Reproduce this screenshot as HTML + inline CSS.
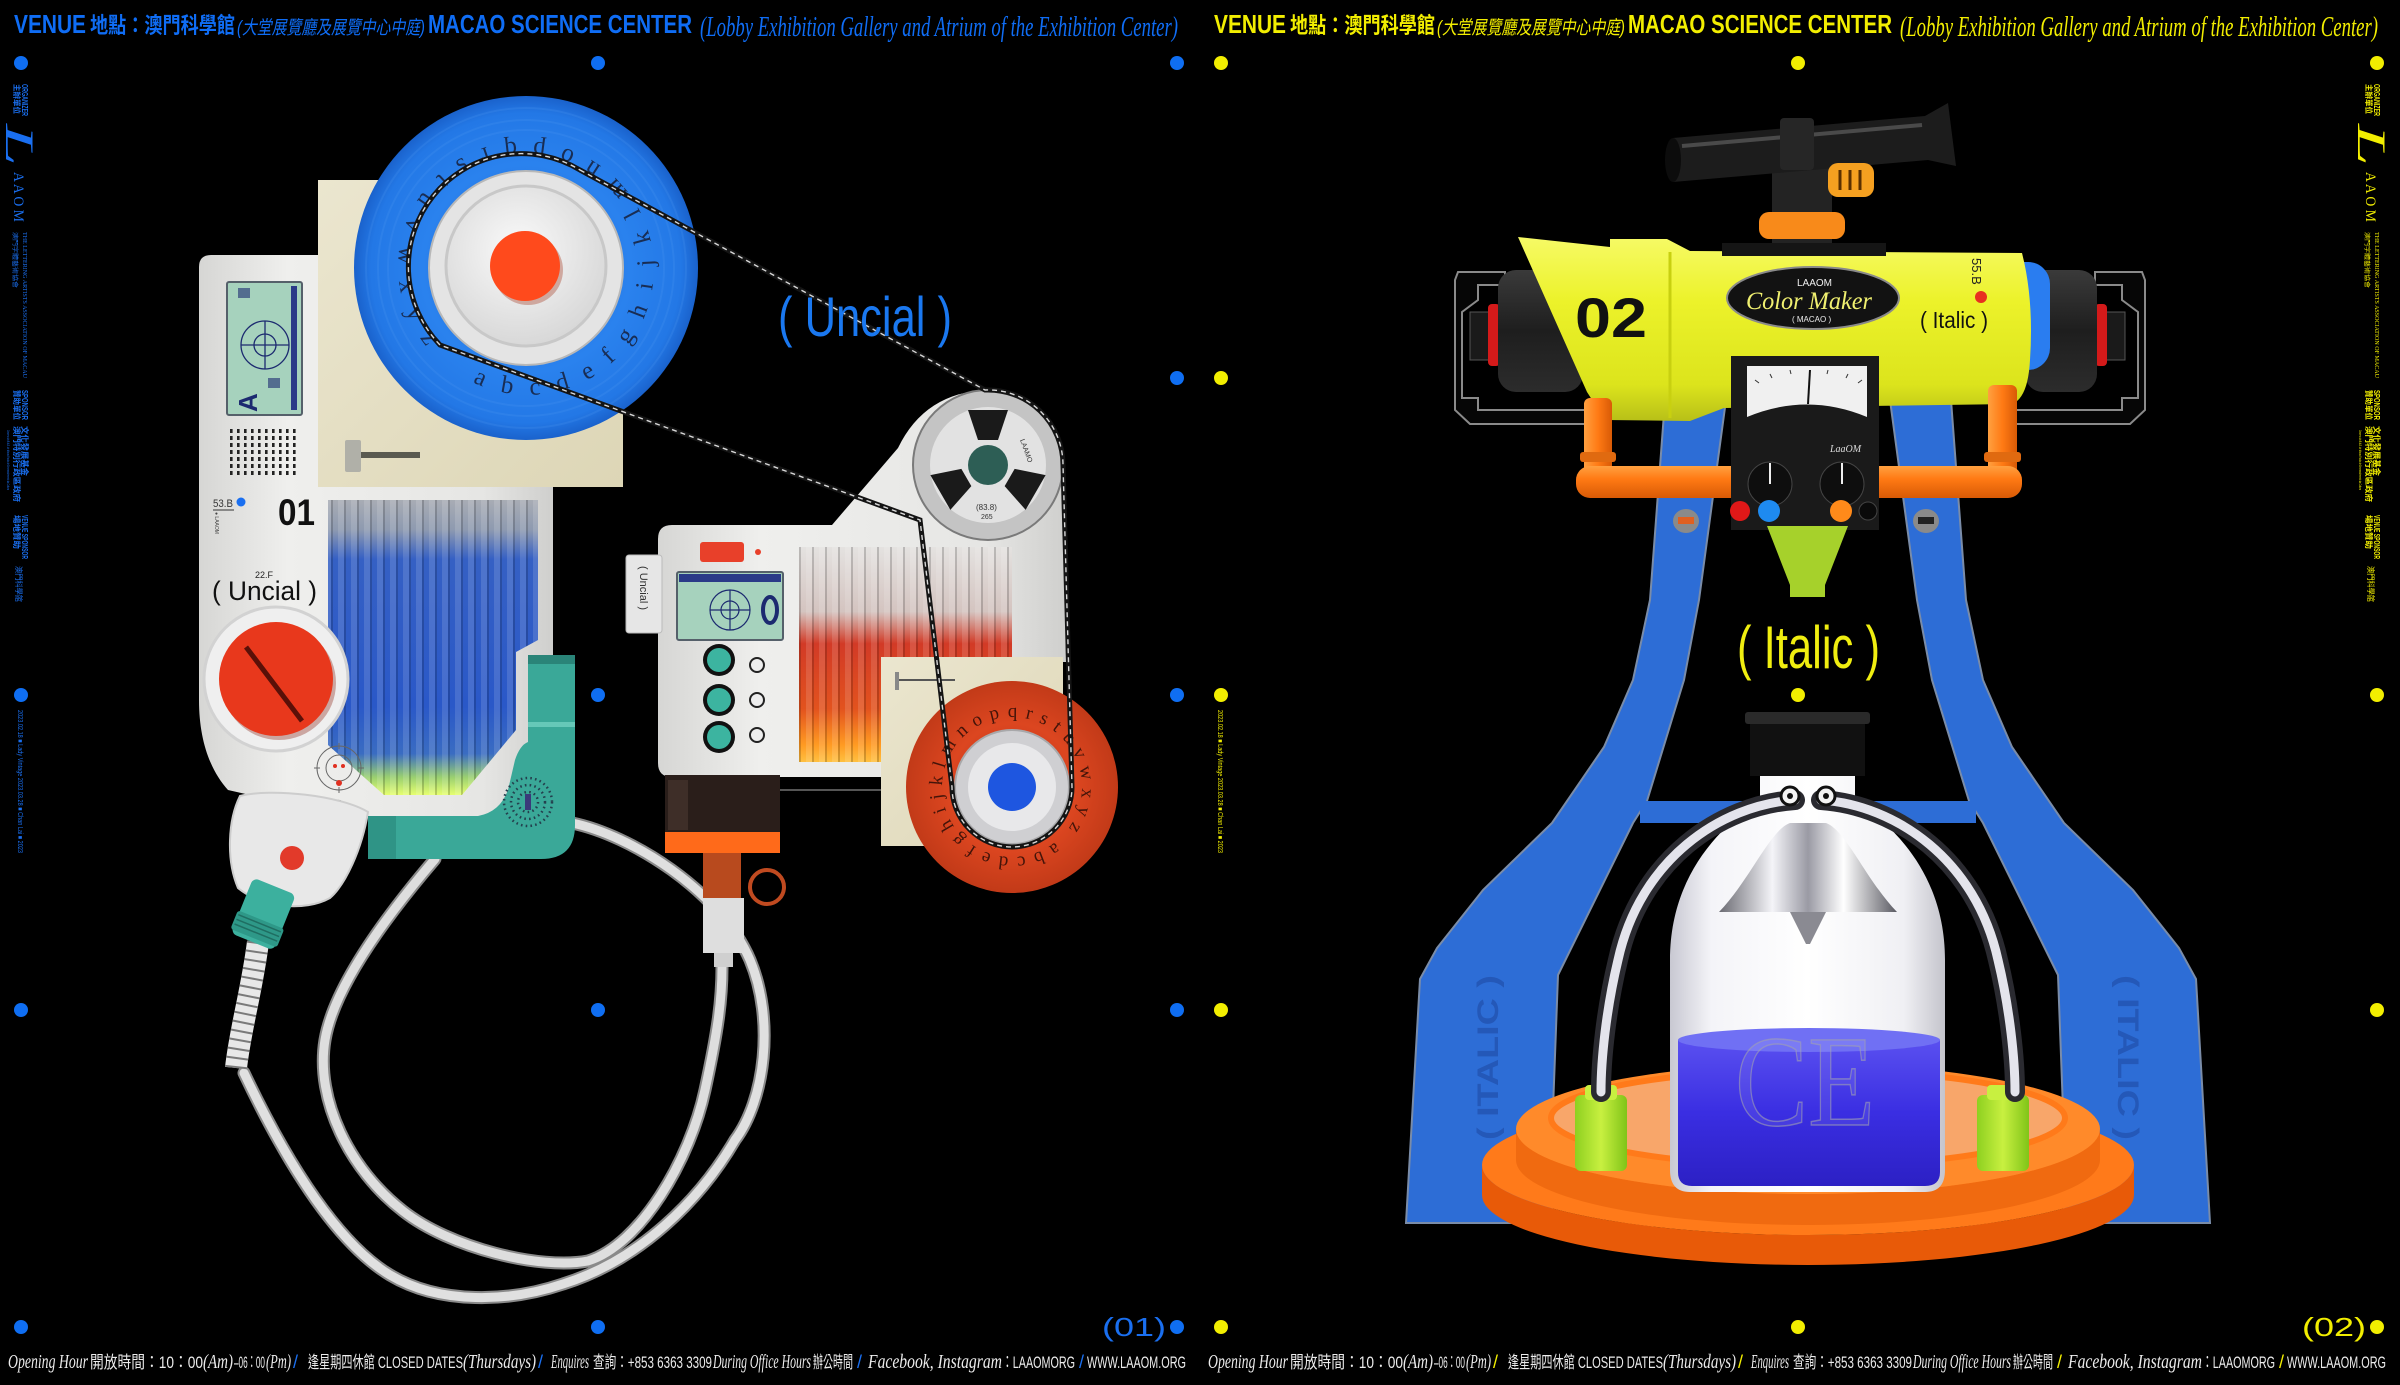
<!DOCTYPE html>
<html><head><meta charset="utf-8"><style>
html,body{margin:0;padding:0;background:#000;}
svg{display:block;}
</style></head><body>
<svg width="2400" height="1385" viewBox="0 0 2400 1385" xmlns="http://www.w3.org/2000/svg">
<style>
.sb{font-family:"Liberation Sans","Noto Sans CJK TC",sans-serif;font-weight:bold;}
.s{font-family:"Liberation Sans","Noto Sans CJK TC",sans-serif;}
.sc{font-family:"Liberation Serif",serif;font-style:italic;}
.se{font-family:"Liberation Serif",serif;}
</style>
<defs>
<linearGradient id="wbody" x1="0" y1="0" x2="1" y2="0"><stop offset="0" stop-color="#d6d6d4"/><stop offset=".25" stop-color="#efefed"/><stop offset=".8" stop-color="#e6e6e4"/><stop offset="1" stop-color="#cfcfcd"/></linearGradient>
<linearGradient id="beige" x1="0" y1="0" x2="1" y2="1"><stop offset="0" stop-color="#ebe6cf"/><stop offset="1" stop-color="#ddd6b6"/></linearGradient>
<radialGradient id="bdisk" cx=".5" cy=".5" r=".5"><stop offset="0" stop-color="#1b5fc9"/><stop offset=".6" stop-color="#2a82ee"/><stop offset=".9" stop-color="#2378e6"/><stop offset="1" stop-color="#1a62cc"/></radialGradient>
<radialGradient id="rdisk" cx=".5" cy=".5" r=".5"><stop offset="0" stop-color="#b83016"/><stop offset=".6" stop-color="#dc4620"/><stop offset="1" stop-color="#c23a18"/></radialGradient>
<radialGradient id="wdisc" cx=".45" cy=".4" r=".6"><stop offset="0" stop-color="#fafafa"/><stop offset="1" stop-color="#d8d8d8"/></radialGradient>
<linearGradient id="bwin" x1="0" y1="0" x2="0" y2="1"><stop offset="0" stop-color="#a8acb4"/><stop offset=".1" stop-color="#8e9ab0"/><stop offset=".2" stop-color="#3560c4"/><stop offset=".7" stop-color="#2a58c8"/><stop offset=".86" stop-color="#3a6cc2"/><stop offset=".94" stop-color="#9ad070"/><stop offset="1" stop-color="#e6ff70"/></linearGradient>
<linearGradient id="rwin" x1="0" y1="0" x2="0" y2="1"><stop offset="0" stop-color="#e4e2e0"/><stop offset=".3" stop-color="#d4c4c0"/><stop offset=".45" stop-color="#d23a26"/><stop offset=".75" stop-color="#e2521e"/><stop offset=".92" stop-color="#ff9a22"/><stop offset="1" stop-color="#ffc040"/></linearGradient>
<pattern id="stripes" width="13" height="20" patternUnits="userSpaceOnUse"><rect width="6" height="20" fill="#fff" opacity=".13"/><rect x="6" width="2" height="20" fill="#000" opacity=".18"/></pattern>
<linearGradient id="yel" x1="0" y1="0" x2="0" y2="1"><stop offset="0" stop-color="#f6fa66"/><stop offset=".35" stop-color="#ecf22a"/><stop offset=".8" stop-color="#dce41c"/><stop offset="1" stop-color="#b8c018"/></linearGradient>
<linearGradient id="pipe" x1="0" y1="0" x2="0" y2="1"><stop offset="0" stop-color="#ffa040"/><stop offset=".4" stop-color="#ff7a14"/><stop offset="1" stop-color="#d85a06"/></linearGradient>
<linearGradient id="pipev" x1="0" y1="0" x2="1" y2="0"><stop offset="0" stop-color="#ffa040"/><stop offset=".5" stop-color="#ff7a14"/><stop offset="1" stop-color="#d85a06"/></linearGradient>
<linearGradient id="glass" x1="0" y1="0" x2="1" y2="0"><stop offset="0" stop-color="#c8c8d2"/><stop offset=".15" stop-color="#f4f4f8"/><stop offset=".5" stop-color="#ffffff"/><stop offset=".85" stop-color="#f0f0f4"/><stop offset="1" stop-color="#c4c4cc"/></linearGradient>
<linearGradient id="liq" x1="0" y1="0" x2="0" y2="1"><stop offset="0" stop-color="#5a50f0"/><stop offset=".5" stop-color="#3a2ee2"/><stop offset="1" stop-color="#2c20c4"/></linearGradient>
<linearGradient id="chrome" x1="0" y1="0" x2="1" y2="0"><stop offset="0" stop-color="#6a6a72"/><stop offset=".3" stop-color="#f4f4f8"/><stop offset=".5" stop-color="#9a9aa4"/><stop offset=".7" stop-color="#ffffff"/><stop offset="1" stop-color="#5a5a62"/></linearGradient>
<linearGradient id="grn" x1="0" y1="0" x2="1" y2="0"><stop offset="0" stop-color="#8ed020"/><stop offset=".5" stop-color="#c8f040"/><stop offset="1" stop-color="#80c418"/></linearGradient>
<linearGradient id="blk" x1="0" y1="0" x2="0" y2="1"><stop offset="0" stop-color="#3a3a3a"/><stop offset=".5" stop-color="#1e1e1e"/><stop offset="1" stop-color="#2c2c2c"/></linearGradient>
<path id="ringB" d="M472.8,382.2 A126,126 0 1 0 579.2,153.8 A126,126 0 1 0 472.8,382.2"/>
<path id="ringR" d="M1055.1,842.2 A70,70 0 1 1 968.9,731.8 A70,70 0 1 1 1055.1,842.2"/>
</defs>
<rect width="2400" height="1385" fill="#000"/>

<!-- ============ HEADERS ============ -->
<g fill="#0f6df5">
<text class="sb" x="14" y="33" font-size="26" textLength="72" lengthAdjust="spacingAndGlyphs">VENUE</text>
<text class="sb" x="90" y="33" font-size="22" textLength="145" lengthAdjust="spacingAndGlyphs">地點：澳門科學館</text>
<text class="s" x="237" y="34" font-size="19" font-style="italic" textLength="188" lengthAdjust="spacingAndGlyphs">(大堂展覽廳及展覽中心中庭)</text>
<text class="sb" x="428" y="33" font-size="26" textLength="264" lengthAdjust="spacingAndGlyphs">MACAO SCIENCE CENTER</text>
<text class="sc" x="700" y="36" font-size="28" textLength="478" lengthAdjust="spacingAndGlyphs">(Lobby Exhibition Gallery and Atrium of the Exhibition Center)</text>
</g>
<g fill="#f2ee00">
<text class="sb" x="1214" y="33" font-size="26" textLength="72" lengthAdjust="spacingAndGlyphs">VENUE</text>
<text class="sb" x="1290" y="33" font-size="22" textLength="145" lengthAdjust="spacingAndGlyphs">地點：澳門科學館</text>
<text class="s" x="1437" y="34" font-size="19" font-style="italic" textLength="188" lengthAdjust="spacingAndGlyphs">(大堂展覽廳及展覽中心中庭)</text>
<text class="sb" x="1628" y="33" font-size="26" textLength="264" lengthAdjust="spacingAndGlyphs">MACAO SCIENCE CENTER</text>
<text class="sc" x="1900" y="36" font-size="28" textLength="478" lengthAdjust="spacingAndGlyphs">(Lobby Exhibition Gallery and Atrium of the Exhibition Center)</text>
</g>

<!-- ============ FOOTERS ============ -->
<g fill="#ececec" font-size="17">
<text class="sc" x="8" y="1368" font-size="20" textLength="80" lengthAdjust="spacingAndGlyphs">Opening Hour</text>
<text class="s" x="90" y="1368" textLength="113" lengthAdjust="spacingAndGlyphs">開放時間：10：00</text>
<text class="sc" x="203" y="1368" font-size="20" textLength="30" lengthAdjust="spacingAndGlyphs">(Am)</text>
<text class="s" x="234" y="1368" textLength="31" lengthAdjust="spacingAndGlyphs">–06：00</text>
<text class="sc" x="266" y="1368" font-size="20" textLength="25" lengthAdjust="spacingAndGlyphs">(Pm)</text>
<text class="s" x="308" y="1368" textLength="155" lengthAdjust="spacingAndGlyphs">逢星期四休館 CLOSED DATES</text>
<text class="sc" x="463" y="1368" font-size="20" textLength="73" lengthAdjust="spacingAndGlyphs">(Thursdays)</text>
<text class="sc" x="551" y="1368" font-size="20" textLength="38" lengthAdjust="spacingAndGlyphs">Enquires</text>
<text class="s" x="593" y="1368" textLength="119" lengthAdjust="spacingAndGlyphs">查詢：+853 6363 3309</text>
<text class="sc" x="713" y="1368" font-size="20" textLength="98" lengthAdjust="spacingAndGlyphs">During Office Hours</text>
<text class="s" x="813" y="1368" textLength="40" lengthAdjust="spacingAndGlyphs">辦公時間</text>
<text class="sc" x="868" y="1368" font-size="20" textLength="134" lengthAdjust="spacingAndGlyphs">Facebook, Instagram</text>
<text class="s" x="1002" y="1368" textLength="73" lengthAdjust="spacingAndGlyphs">：LAAOMORG</text>
<text class="s" x="1087" y="1368" textLength="99" lengthAdjust="spacingAndGlyphs">WWW.LAAOM.ORG</text>
</g>
<g fill="#1a6ff0" font-size="18" class="s"><text x="293" y="1368">/</text><text x="538" y="1368">/</text><text x="857" y="1368">/</text><text x="1079" y="1368">/</text></g>
<g fill="#ececec" font-size="17">
<text class="sc" x="1208" y="1368" font-size="20" textLength="80" lengthAdjust="spacingAndGlyphs">Opening Hour</text>
<text class="s" x="1290" y="1368" textLength="113" lengthAdjust="spacingAndGlyphs">開放時間：10：00</text>
<text class="sc" x="1403" y="1368" font-size="20" textLength="30" lengthAdjust="spacingAndGlyphs">(Am)</text>
<text class="s" x="1434" y="1368" textLength="31" lengthAdjust="spacingAndGlyphs">–06：00</text>
<text class="sc" x="1466" y="1368" font-size="20" textLength="25" lengthAdjust="spacingAndGlyphs">(Pm)</text>
<text class="s" x="1508" y="1368" textLength="155" lengthAdjust="spacingAndGlyphs">逢星期四休館 CLOSED DATES</text>
<text class="sc" x="1663" y="1368" font-size="20" textLength="73" lengthAdjust="spacingAndGlyphs">(Thursdays)</text>
<text class="sc" x="1751" y="1368" font-size="20" textLength="38" lengthAdjust="spacingAndGlyphs">Enquires</text>
<text class="s" x="1793" y="1368" textLength="119" lengthAdjust="spacingAndGlyphs">查詢：+853 6363 3309</text>
<text class="sc" x="1913" y="1368" font-size="20" textLength="98" lengthAdjust="spacingAndGlyphs">During Office Hours</text>
<text class="s" x="2013" y="1368" textLength="40" lengthAdjust="spacingAndGlyphs">辦公時間</text>
<text class="sc" x="2068" y="1368" font-size="20" textLength="134" lengthAdjust="spacingAndGlyphs">Facebook, Instagram</text>
<text class="s" x="2202" y="1368" textLength="73" lengthAdjust="spacingAndGlyphs">：LAAOMORG</text>
<text class="s" x="2287" y="1368" textLength="99" lengthAdjust="spacingAndGlyphs">WWW.LAAOM.ORG</text>
</g>
<g fill="#f2ee00" font-size="18" class="s"><text x="1493" y="1368">/</text><text x="1738" y="1368">/</text><text x="2057" y="1368">/</text><text x="2279" y="1368">/</text></g>
<text class="s" x="1102" y="1336" font-size="26" fill="#1a6ff0" textLength="64" lengthAdjust="spacingAndGlyphs">(01)</text>
<text class="s" x="2302" y="1336" font-size="26" fill="#f2ee00" textLength="64" lengthAdjust="spacingAndGlyphs">(02)</text>

<!-- ============ SIDE STRIPS ============ -->
<g fill="#1a6ff0">
<g transform="translate(0,0) rotate(90)">
<text class="sb" x="84" y="-14" font-size="8" textLength="30" lengthAdjust="spacingAndGlyphs">主辦單位</text>
<text class="sb" x="84" y="-22" font-size="8" textLength="32" lengthAdjust="spacingAndGlyphs">ORGANIZER</text>
<text class="sc" x="124" y="-6" font-size="40" textLength="42" lengthAdjust="spacingAndGlyphs">L</text>
<text class="se" x="172" y="-14" font-size="15" textLength="50" lengthAdjust="spacingAndGlyphs">A A O M</text>
<text class="s" x="232" y="-13" font-size="6" textLength="56" lengthAdjust="spacingAndGlyphs">澳門字體藝術協會</text>
<text class="se" x="232" y="-23" font-size="6" textLength="146" lengthAdjust="spacingAndGlyphs">THE LETTERING ARTISTS ASSOCIATION OF MACAU</text>
<text class="sb" x="390" y="-14" font-size="8" textLength="30" lengthAdjust="spacingAndGlyphs">贊助單位</text>
<text class="sb" x="390" y="-22" font-size="8" textLength="30" lengthAdjust="spacingAndGlyphs">SPONSOR</text>
<text class="sb" x="426" y="-14" font-size="8" textLength="76" lengthAdjust="spacingAndGlyphs">澳門特別行政區政府</text>
<text class="sb" x="426" y="-22" font-size="8" textLength="50" lengthAdjust="spacingAndGlyphs">文化發展基金</text>
<text class="s" x="430" y="-7" font-size="4" textLength="60" lengthAdjust="spacingAndGlyphs">Governo da R.A.E. de Macau Fundo de Desenvolvimento da Cultura</text>
<text class="sb" x="515" y="-14" font-size="8" textLength="34" lengthAdjust="spacingAndGlyphs">場地贊助</text>
<text class="sb" x="515" y="-22" font-size="8" textLength="44" lengthAdjust="spacingAndGlyphs">VENUE SPONSOR</text>
<text class="s" x="566" y="-16" font-size="8" textLength="36" lengthAdjust="spacingAndGlyphs">澳門科學館</text>
<text class="s" x="710" y="-18" font-size="7" textLength="143" lengthAdjust="spacingAndGlyphs">2023.02.18 ■ Lady Vintage 2023.03.28 ■ Chan Lai ■ 2023</text>
</g>
</g>
<g fill="#f2ee00">
<g transform="translate(2352,0) rotate(90)">
<text class="sb" x="84" y="-14" font-size="8" textLength="30" lengthAdjust="spacingAndGlyphs">主辦單位</text>
<text class="sb" x="84" y="-22" font-size="8" textLength="32" lengthAdjust="spacingAndGlyphs">ORGANIZER</text>
<text class="sc" x="124" y="-6" font-size="40" textLength="42" lengthAdjust="spacingAndGlyphs">L</text>
<text class="se" x="172" y="-14" font-size="15" textLength="50" lengthAdjust="spacingAndGlyphs">A A O M</text>
<text class="s" x="232" y="-13" font-size="6" textLength="56" lengthAdjust="spacingAndGlyphs">澳門字體藝術協會</text>
<text class="se" x="232" y="-23" font-size="6" textLength="146" lengthAdjust="spacingAndGlyphs">THE LETTERING ARTISTS ASSOCIATION OF MACAU</text>
<text class="sb" x="390" y="-14" font-size="8" textLength="30" lengthAdjust="spacingAndGlyphs">贊助單位</text>
<text class="sb" x="390" y="-22" font-size="8" textLength="30" lengthAdjust="spacingAndGlyphs">SPONSOR</text>
<text class="sb" x="426" y="-14" font-size="8" textLength="76" lengthAdjust="spacingAndGlyphs">澳門特別行政區政府</text>
<text class="sb" x="426" y="-22" font-size="8" textLength="50" lengthAdjust="spacingAndGlyphs">文化發展基金</text>
<text class="s" x="430" y="-7" font-size="4" textLength="60" lengthAdjust="spacingAndGlyphs">Governo da R.A.E. de Macau Fundo de Desenvolvimento da Cultura</text>
<text class="sb" x="515" y="-14" font-size="8" textLength="34" lengthAdjust="spacingAndGlyphs">場地贊助</text>
<text class="sb" x="515" y="-22" font-size="8" textLength="44" lengthAdjust="spacingAndGlyphs">VENUE SPONSOR</text>
<text class="s" x="566" y="-16" font-size="8" textLength="36" lengthAdjust="spacingAndGlyphs">澳門科學館</text>
</g>
<g transform="translate(1200,0) rotate(90)">
<text class="s" x="710" y="-18" font-size="7" textLength="143" lengthAdjust="spacingAndGlyphs">2023.02.18 ■ Lady Vintage 2023.03.28 ■ Chan Lai ■ 2023</text>
</g>
</g>

<!-- ============ DOTS ============ -->
<g fill="#0f6ef2">
<circle cx="21" cy="63" r="7"/><circle cx="598" cy="63" r="7"/><circle cx="1177" cy="63" r="7"/>
<circle cx="1177" cy="378" r="7"/>
<circle cx="21" cy="695" r="7"/><circle cx="598" cy="695" r="7"/><circle cx="1177" cy="695" r="7"/>
<circle cx="21" cy="1010" r="7"/><circle cx="598" cy="1010" r="7"/><circle cx="1177" cy="1010" r="7"/>
<circle cx="21" cy="1327" r="7"/><circle cx="598" cy="1327" r="7"/><circle cx="1177" cy="1327" r="7"/>
</g>
<g fill="#f2ee00">
<circle cx="1221" cy="63" r="7"/><circle cx="1798" cy="63" r="7"/><circle cx="2377" cy="63" r="7"/>
<circle cx="1221" cy="378" r="7"/>
<circle cx="1221" cy="695" r="7"/><circle cx="1798" cy="695" r="7"/><circle cx="2377" cy="695" r="7"/>
<circle cx="1221" cy="1010" r="7"/><circle cx="2377" cy="1010" r="7"/>
<circle cx="1221" cy="1327" r="7"/><circle cx="1798" cy="1327" r="7"/><circle cx="2377" cy="1327" r="7"/>
</g>

<!-- ============ LEFT MACHINE ============ -->
<g fill="none" stroke-linecap="round">
<path d="M572,823 C630,835 720,890 750,960 C775,1020 765,1100 735,1140 C700,1200 640,1260 563,1284 C510,1302 440,1305 390,1275 C340,1245 290,1170 244,1073" stroke="#8a8a8a" stroke-width="13"/>
<path d="M572,823 C630,835 720,890 750,960 C775,1020 765,1100 735,1140 C700,1200 640,1260 563,1284 C510,1302 440,1305 390,1275 C340,1245 290,1170 244,1073" stroke="#e0e0e0" stroke-width="9"/>
<path d="M435,859 C400,900 335,980 325,1040 C315,1100 350,1170 403,1211 C450,1248 540,1270 588,1261 C640,1245 690,1160 705,1090 C718,1030 722,1000 722,967" stroke="#8a8a8a" stroke-width="13"/>
<path d="M435,859 C400,900 335,980 325,1040 C315,1100 350,1170 403,1211 C450,1248 540,1270 588,1261 C640,1245 690,1160 705,1090 C718,1030 722,1000 722,967" stroke="#dedede" stroke-width="9"/>
</g>
<path d="M258,942 C252,990 240,1030 236,1068" fill="none" stroke="#e8e8e8" stroke-width="22"/>
<path d="M258,942 C252,990 240,1030 236,1068" fill="none" stroke="#7a7a7a" stroke-width="22" stroke-dasharray="2 7"/>

<path d="M211,255 L318,255 L318,487 L553,487 L553,816 L365,816 L340,800 L250,795 L228,790 C210,770 199,740 199,700 L199,267 Q199,255 211,255 Z" fill="url(#wbody)"/>
<path d="M240,796 C270,788 340,795 368,812 C362,850 345,885 330,898 C305,912 262,908 238,888 C226,860 228,820 240,796 Z" fill="#e8e8e8" stroke="#cdcdcd" stroke-width="2"/>
<circle cx="292" cy="858" r="12" fill="#e23a2a"/>
<g transform="rotate(22 263 915)">
<rect x="240" y="884" width="46" height="60" rx="6" fill="#3cb09e"/>
<rect x="238" y="920" width="50" height="20" rx="3" fill="#2e9888"/>
<path d="M240,924 H286 M240,929 H286 M240,934 H286" stroke="#1f6e62" stroke-width="1.5"/>
</g>
<rect x="318" y="180" width="305" height="307" fill="url(#beige)"/>
<rect x="360" y="452" width="60" height="6" fill="#5a5a50"/>
<rect x="345" y="440" width="16" height="32" rx="2" fill="#b0b0a8"/>
<!-- blue disk -->
<circle cx="526" cy="268" r="172" fill="url(#bdisk)"/>
<g fill="none" stroke="#5aa0f4" stroke-opacity=".18" stroke-width="2">
<circle cx="526" cy="268" r="160"/><circle cx="526" cy="268" r="148"/><circle cx="526" cy="268" r="138"/>
</g>
<text class="se" font-size="25" fill="#172544" fill-opacity=".9"><textPath href="#ringB" textLength="740" lengthAdjust="spacing">abcdefghijklmnopqrstuvwxyz</textPath></text>
<circle cx="526" cy="268" r="97" fill="#e4e4e4" stroke="#b8b8b8" stroke-width="2"/>
<circle cx="526" cy="266" r="80" fill="url(#wdisc)" stroke="#c8c8c8" stroke-width="3"/>
<circle cx="528" cy="270" r="35" fill="#a03018" opacity=".35"/>
<circle cx="525" cy="266" r="35" fill="#ff4a1c"/>

<!-- LCD -->
<rect x="227" y="282" width="75" height="133" rx="2" fill="#a6d2bd" stroke="#55606a" stroke-width="2"/>
<g stroke="#1c2a70" stroke-width="1.3" fill="none">
<circle cx="265" cy="345" r="24"/><circle cx="265" cy="345" r="11"/>
<path d="M241,345 H289 M265,321 V369"/>
<path d="M294,286 V410" stroke-width="6" stroke="#2a3a88"/>
</g>
<text class="sb" x="233" y="412" font-size="26" fill="#1c2a70" transform="rotate(-90 245 400)">A</text>
<rect x="238" y="288" width="12" height="10" fill="#1c2a70" opacity=".6"/>
<rect x="268" y="378" width="12" height="10" fill="#1c2a70" opacity=".6"/>
<g stroke="#222" stroke-width="4" stroke-dasharray="2.6 4.4" fill="none">
<path d="M230,431 H298 M230,438 H298 M230,445 H298 M230,452 H298 M230,459 H298 M230,466 H298 M230,473 H298"/>
</g>
<text class="s" x="213" y="507" font-size="11" fill="#333" textLength="20" lengthAdjust="spacingAndGlyphs">53.B</text>
<line x1="213" y1="510" x2="234" y2="510" stroke="#333" stroke-width="1"/>
<circle cx="241" cy="502" r="4.5" fill="#1a6ff0"/>
<text class="s" font-size="5" fill="#444" transform="translate(215,512) rotate(90)">● LAAOM</text>
<text class="sb" x="278" y="525" font-size="37" fill="#111" textLength="37" lengthAdjust="spacingAndGlyphs">01</text>
<text class="s" x="255" y="578" font-size="9" fill="#222" textLength="18" lengthAdjust="spacingAndGlyphs">22.F</text>
<text class="s" x="212" y="600" font-size="27" fill="#111" textLength="105" lengthAdjust="spacingAndGlyphs">( Uncial )</text>
<path d="M328,500 L538,500 L538,640 L516,652 L516,730 L462,795 L384,795 L328,745 Z" fill="url(#bwin)"/>
<path d="M328,500 L538,500 L538,640 L516,652 L516,730 L462,795 L384,795 L328,745 Z" fill="url(#stripes)"/>
<!-- knob -->
<circle cx="276" cy="679" r="72" fill="#efefef" stroke="#d2d2d2" stroke-width="3"/>
<circle cx="279" cy="683" r="57" fill="#8a2010" opacity=".35"/>
<circle cx="276" cy="679" r="57" fill="#e8381c"/>
<line x1="246" y1="647" x2="302" y2="721" stroke="#5a1008" stroke-width="5"/>
<g fill="none" stroke="#666" stroke-width="1">
<circle cx="339" cy="768" r="22"/><circle cx="339" cy="768" r="13"/>
<path d="M339,743 V749 M339,787 V793 M314,768 H320 M358,768 H364"/>
</g>
<circle cx="335" cy="766" r="2" fill="#e03020"/><circle cx="343" cy="766" r="2" fill="#e03020"/><circle cx="339" cy="783" r="3" fill="#e03020"/>
<!-- teal elbow -->
<path d="M528,655 L575,655 L575,825 Q575,859 541,859 L368,859 L368,816 L478,816 Q500,812 508,790 L515,760 Q520,745 528,742 Z" fill="#3aa898"/>
<rect x="528" y="655" width="47" height="9" fill="#2a8478"/>
<rect x="528" y="722" width="47" height="5" fill="#66c8b8"/>
<rect x="368" y="816" width="28" height="43" fill="#2f9486"/>
<g fill="none" stroke="#24404e" stroke-width="2.5" stroke-dasharray="1.6 3.2">
<circle cx="528" cy="802" r="10"/><circle cx="528" cy="802" r="17"/><circle cx="528" cy="802" r="24"/>
</g>
<rect x="525" y="794" width="6" height="16" fill="#3a3a7a"/>

<!-- ============ RIGHT SMALL MACHINE ============ -->
<path d="M672,525 L832,525 L898,448 Q925,392 988,390 L1063,465 L1066,662 L881,662 L881,777 L672,777 Q658,777 658,763 L658,539 Q658,525 672,525 Z" fill="url(#wbody)"/>
<rect x="799" y="547" width="213" height="215" fill="url(#rwin)"/>
<rect x="799" y="547" width="213" height="215" fill="url(#stripes)"/>
<rect x="626" y="555" width="36" height="78" rx="3" fill="#e6e6e6" stroke="#bbb"/>
<text class="s" font-size="11" fill="#333" transform="translate(640,566) rotate(90)">( Uncial )</text>
<rect x="677" y="572" width="106" height="68" rx="2" fill="#a6d2bd" stroke="#55606a" stroke-width="2"/>
<rect x="679" y="574" width="102" height="8" fill="#2a3a88"/>
<g stroke="#1c2a70" stroke-width="1.2" fill="none">
<circle cx="730" cy="610" r="20"/><circle cx="730" cy="610" r="9"/><path d="M710,610 H750 M730,590 V630"/>
<ellipse cx="770" cy="610" rx="7" ry="13" stroke-width="4"/>
</g>
<rect x="700" y="542" width="44" height="20" rx="3" fill="#e8402a"/>
<circle cx="758" cy="552" r="3" fill="#e8402a"/>
<g>
<circle cx="719" cy="660" r="16" fill="#111"/><circle cx="719" cy="660" r="12" fill="#3cb4a0"/>
<circle cx="719" cy="700" r="16" fill="#111"/><circle cx="719" cy="700" r="12" fill="#3cb4a0"/>
<circle cx="719" cy="737" r="16" fill="#111"/><circle cx="719" cy="737" r="12" fill="#3cb4a0"/>
<circle cx="757" cy="665" r="7" fill="#eee" stroke="#222" stroke-width="2"/>
<circle cx="757" cy="700" r="7" fill="#eee" stroke="#222" stroke-width="2"/>
<circle cx="757" cy="735" r="7" fill="#eee" stroke="#222" stroke-width="2"/>
</g>
<rect x="665" y="775" width="115" height="58" fill="#2a1e1a"/>
<rect x="668" y="780" width="20" height="50" fill="#3e2e28"/>
<rect x="665" y="832" width="115" height="21" fill="#ff6a1a"/>
<rect x="703" y="853" width="38" height="45" fill="#b84a1e"/>
<circle cx="767" cy="887" r="17" fill="none" stroke="#c04a20" stroke-width="4"/>
<rect x="703" y="898" width="41" height="55" fill="#dedede"/>
<rect x="714" y="953" width="19" height="14" fill="#cfcfcf"/>
<line x1="780" y1="790" x2="881" y2="790" stroke="#555" stroke-width="2"/>
<rect x="881" y="657" width="182" height="189" fill="url(#beige)"/>
<rect x="895" y="672" width="4" height="18" fill="#888"/><line x1="899" y1="680" x2="955" y2="680" stroke="#555" stroke-width="2"/>
<circle cx="1012" cy="787" r="106" fill="url(#rdisk)"/>
<text class="se" font-size="19" fill="#2a0c06" fill-opacity=".85"><textPath href="#ringR" textLength="420" lengthAdjust="spacing">abcdefghijklmnopqrstuvwxyz</textPath></text>
<circle cx="1012" cy="787" r="57" fill="#cfcfd2" stroke="#a8a8aa" stroke-width="2"/>
<circle cx="1012" cy="787" r="44" fill="#e8e8ea"/>
<circle cx="1012" cy="787" r="24" fill="#1e56e0"/>
<circle cx="988" cy="465" r="75" fill="#c4c4c4" stroke="#7a7a7a" stroke-width="2"/>
<circle cx="988" cy="465" r="58" fill="#e2e2e2"/>
<g fill="#1a1a1a">
<path d="M978,440 L998,440 L1008,410 L968,410 Z"/>
<path d="M978,440 L998,440 L1008,410 L968,410 Z" transform="rotate(120 988 465)"/>
<path d="M978,440 L998,440 L1008,410 L968,410 Z" transform="rotate(240 988 465)"/>
</g>
<circle cx="988" cy="465" r="20" fill="#2d5e55"/>
<text class="s" x="976" y="510" font-size="8" fill="#333">(83.8)</text>
<text class="s" x="981" y="519" font-size="7" fill="#333">265</text>
<text class="s" font-size="7" fill="#333" transform="translate(1020,440) rotate(70)">LAAMO</text>
<path d="M580,170 L985,390 A75,75 0 0 1 1063,465 L1072,787 A60,60 0 0 1 952,787 L920,520 L440,345 A113,113 0 0 1 580,170 Z" fill="none" stroke="#141414" stroke-width="5"/>
<path d="M580,170 L985,390 A75,75 0 0 1 1063,465 L1072,787 A60,60 0 0 1 952,787 L920,520 L440,345 A113,113 0 0 1 580,170 Z" fill="none" stroke="#d8d8d8" stroke-width="1.4" stroke-dasharray="5 4"/>
<text class="s" x="778" y="336" font-size="56" fill="#1a78f0" textLength="174" lengthAdjust="spacingAndGlyphs">( Uncial )</text>

<!-- ============ RIGHT PANEL MACHINE ============ -->
<g fill="#2d6dd6" stroke="#7a8ca8" stroke-width="2">
<path d="M1665,400 L1650,600 L1633,680 L1604,747 L1552,823 L1483,890 L1437,948 L1420,979 L1406,1223 L1552,1223 L1552,1136 L1558,975 L1633,823 L1647,801 L1684,680 L1699,600 L1726,400 Z"/>
<path d="M1951,400 L1966,600 L1983,680 L2012,747 L2064,823 L2133,890 L2179,948 L2196,979 L2210,1223 L2064,1223 L2064,1136 L2058,975 L1983,823 L1969,801 L1932,680 L1917,600 L1890,400 Z"/>
<rect x="1640" y="801" width="336" height="22" stroke="none"/>
</g>
<text class="sb" font-size="30" fill="#2458b8" textLength="165" lengthAdjust="spacingAndGlyphs" transform="translate(1498,1140) rotate(-90)">( ITALIC )</text>
<text class="sb" font-size="30" fill="#2458b8" textLength="165" lengthAdjust="spacingAndGlyphs" transform="translate(2118,975) rotate(90)">( ITALIC )</text>
<ellipse cx="1686" cy="521" rx="13" ry="12" fill="#8a8a8a"/><rect x="1678" y="517" width="16" height="7" fill="#e06020"/>
<ellipse cx="1926" cy="521" rx="13" ry="12" fill="#8a8a8a"/><rect x="1918" y="517" width="16" height="7" fill="#222"/>
<g fill="#060606" stroke="#8a8a8a" stroke-width="2">
<path d="M1458,272 L1505,272 L1505,285 L1478,285 L1478,300 L1462,312 L1462,398 L1478,398 L1478,410 L1595,410 L1595,424 L1470,424 L1455,410 L1455,280 Z"/>
<path d="M2142,272 L2095,272 L2095,285 L2122,285 L2122,300 L2138,312 L2138,398 L2122,398 L2122,410 L2005,410 L2005,424 L2130,424 L2145,410 L2145,280 Z"/>
</g>
<rect x="1470" y="312" width="20" height="48" fill="#1a1a1a" stroke="#555"/>
<rect x="1488" y="304" width="12" height="62" rx="4" fill="#d41a1a"/>
<rect x="1498" y="270" width="85" height="122" rx="18" fill="url(#blk)"/>
<rect x="2105" y="312" width="20" height="48" fill="#1a1a1a" stroke="#555"/>
<rect x="2095" y="304" width="12" height="62" rx="4" fill="#d41a1a"/>
<rect x="2025" y="270" width="72" height="122" rx="18" fill="url(#blk)"/>
<rect x="1995" y="262" width="55" height="108" rx="22" fill="#2a7df0"/>
<rect x="1772" y="160" width="60" height="92" fill="#232323"/>
<polygon points="1673,138 1925,116 1948,103 1956,166 1928,160 1673,182" fill="#1c1c1c"/>
<ellipse cx="1673" cy="160" rx="8" ry="22" fill="#0c0c0c"/>
<line x1="1682" y1="146" x2="1922" y2="125" stroke="#4a4a4a" stroke-width="4"/>
<rect x="1780" y="118" width="34" height="52" rx="4" fill="#262626"/>
<rect x="1828" y="163" width="46" height="34" rx="10" fill="#f5a020"/>
<path d="M1840,170 V190 M1850,170 V190 M1860,170 V190" stroke="#5a3000" stroke-width="3"/>
<rect x="1759" y="212" width="86" height="27" rx="10" fill="#f88a1a"/>
<path d="M1518,237 L1610,247 L1610,239 L1667,239 L1690,251 L2022,253 Q2034,300 2030,360 Q2028,398 2012,404 L1724,408 L1690,421 L1605,420 L1587,392 Z" fill="url(#yel)"/>
<line x1="1670" y1="252" x2="1670" y2="418" stroke="#c8d010" stroke-width="3"/>
<rect x="1722" y="243" width="164" height="13" fill="#151515"/>
<ellipse cx="1813" cy="298" rx="86" ry="31" fill="#121212" stroke="#8a8a8a" stroke-width="2"/>
<text class="s" x="1797" y="286" font-size="10" fill="#eee">LAAOM</text>
<text class="sc" x="1746" y="309" font-size="25" fill="#f0f070" textLength="126" lengthAdjust="spacingAndGlyphs">Color Maker</text>
<text class="s" x="1792" y="322" font-size="8" fill="#eee">( MACAO )</text>
<text class="sb" x="1575" y="337" font-size="56" fill="#111" textLength="72" lengthAdjust="spacingAndGlyphs">02</text>
<text class="s" x="1920" y="328" font-size="23" fill="#111" textLength="68" lengthAdjust="spacingAndGlyphs">( Italic )</text>
<text class="s" font-size="13" fill="#222" transform="translate(1972,258) rotate(90)">55.B</text>
<circle cx="1981" cy="297" r="6" fill="#e83020"/>
<rect x="1584" y="398" width="28" height="80" rx="6" fill="url(#pipev)"/>
<rect x="1988" y="385" width="29" height="93" rx="6" fill="url(#pipev)"/>
<rect x="1576" y="466" width="446" height="32" rx="14" fill="url(#pipe)"/>
<rect x="1580" y="452" width="36" height="10" rx="3" fill="#e06a10"/>
<rect x="1984" y="452" width="37" height="10" rx="3" fill="#e06a10"/>
<rect x="1731" y="356" width="148" height="174" fill="#1a1a1a"/>
<path d="M1747,366 L1867,366 L1867,417 Q1807,392 1747,417 Z" fill="#f0f0f0"/>
<line x1="1808" y1="404" x2="1810" y2="370" stroke="#111" stroke-width="2"/>
<g stroke="#333" stroke-width="1"><path d="M1755,380 l4,3 M1770,374 l2,4 M1790,370 l1,4 M1828,370 l-1,4 M1848,374 l-2,4 M1862,380 l-4,3"/></g>
<circle cx="1770" cy="484" r="22" fill="#0e0e0e" stroke="#444"/><line x1="1770" y1="484" x2="1770" y2="463" stroke="#eee" stroke-width="2"/>
<circle cx="1842" cy="484" r="22" fill="#0e0e0e" stroke="#444"/><line x1="1842" y1="484" x2="1842" y2="463" stroke="#eee" stroke-width="2"/>
<text class="sc" x="1830" y="452" font-size="10" fill="#ddd">LaaOM</text>
<circle cx="1740" cy="511" r="10" fill="#e01818"/>
<circle cx="1769" cy="511" r="11" fill="#1e8af0"/>
<circle cx="1841" cy="511" r="11" fill="#ff8a1a"/>
<circle cx="1868" cy="511" r="9" fill="#0a0a0a" stroke="#444"/>
<polygon points="1767,526 1848,526 1825,585 1825,597 1790,597 1790,585" fill="#b8e830" opacity=".9"/>
<path d="M1482,1165 A326,70 0 0 0 2134,1165 L2134,1195 A326,70 0 0 1 1482,1195 Z" fill="#e85a08"/>
<ellipse cx="1808" cy="1165" rx="326" ry="70" fill="#ff7a1a"/>
<path d="M1516,1129 A292,65 0 0 0 2100,1129 L2100,1160 A292,65 0 0 1 1516,1160 Z" fill="#f06a10"/>
<ellipse cx="1808" cy="1129" rx="292" ry="65" fill="#ff8a2a"/>
<ellipse cx="1808" cy="1118" rx="257" ry="48" fill="#f8a66a" stroke="#ff7a1a" stroke-width="6"/>
<rect x="1575" y="1095" width="52" height="76" rx="6" fill="url(#grn)"/>
<rect x="1585" y="1085" width="32" height="15" rx="4" fill="#c8f040"/>
<rect x="1977" y="1095" width="52" height="76" rx="6" fill="url(#grn)"/>
<rect x="1987" y="1085" width="32" height="15" rx="4" fill="#c8f040"/>
<path d="M1760,776 L1855,776 L1855,800 C1900,830 1945,880 1945,960 L1945,1170 Q1945,1192 1925,1192 L1690,1192 Q1670,1192 1670,1170 L1670,960 C1670,880 1715,830 1760,800 Z" fill="url(#glass)"/>
<path d="M1678,1040 L1940,1040 L1940,1172 Q1940,1186 1925,1186 L1692,1186 Q1678,1186 1678,1172 Z" fill="url(#liq)"/>
<ellipse cx="1809" cy="1040" rx="131" ry="12" fill="#7070f4"/>
<text class="se" x="1735" y="1125" font-size="130" fill="#ffffff" fill-opacity=".08" stroke="#a0a0b0" stroke-opacity=".6" stroke-width="1.5" textLength="140" lengthAdjust="spacingAndGlyphs">CE</text>
<path d="M1719,912 C1750,880 1770,830 1790,823 L1826,823 C1846,830 1866,880 1897,912 Z" fill="url(#chrome)"/>
<path d="M1790,912 L1826,912 L1810,944 L1806,944 Z" fill="#8a8a92"/>
<rect x="1750" y="720" width="115" height="56" fill="#111"/>
<rect x="1745" y="712" width="125" height="12" rx="3" fill="#2a2a2a"/>
<g fill="none" stroke-linecap="round">
<path d="M1795,800 C1720,805 1640,860 1618,960 C1606,1010 1601,1060 1601,1092" stroke="#2a2a30" stroke-width="20"/>
<path d="M1795,800 C1720,805 1640,860 1618,960 C1606,1010 1601,1060 1601,1092" stroke="#e4e4ec" stroke-width="9"/>
<path d="M1821,800 C1896,805 1976,860 1998,960 C2010,1010 2015,1060 2015,1092" stroke="#2a2a30" stroke-width="20"/>
<path d="M1821,800 C1896,805 1976,860 1998,960 C2010,1010 2015,1060 2015,1092" stroke="#e4e4ec" stroke-width="9"/>
</g>
<circle cx="1790" cy="796" r="9" fill="#f4f4f4" stroke="#111" stroke-width="3"/><circle cx="1790" cy="796" r="3" fill="#111"/>
<circle cx="1826" cy="796" r="9" fill="#f4f4f4" stroke="#111" stroke-width="3"/><circle cx="1826" cy="796" r="3" fill="#111"/>
<text class="s" x="1737" y="668" font-size="60" fill="#f0ee10" textLength="143" lengthAdjust="spacingAndGlyphs">( Italic )</text>
</svg>
</body></html>
